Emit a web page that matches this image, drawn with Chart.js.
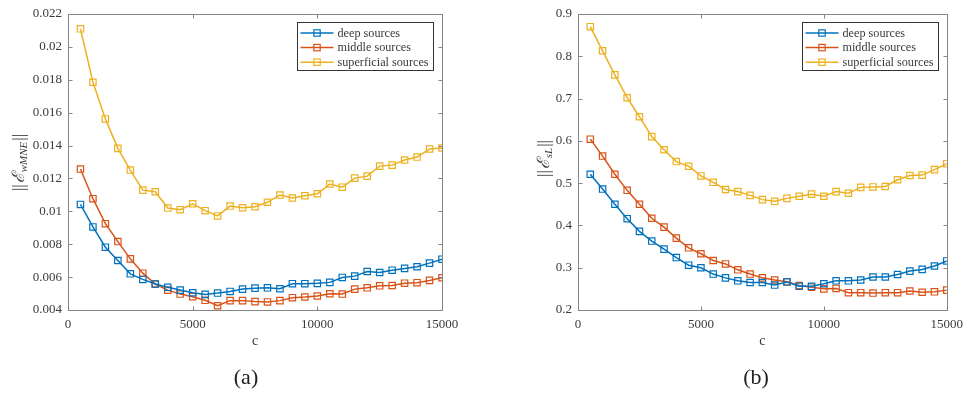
<!DOCTYPE html>
<html>
<head>
<meta charset="utf-8">
<script src="https://cdn.jsdelivr.net/npm/chart.js@4.4.1/dist/chart.umd.min.js"></script>
<style>
  body { margin: 0; background: #fff; width: 970px; height: 394px; overflow: hidden; position: relative; font-family: "Liberation Serif", serif; }
  .panel { position: absolute; top: 0; width: 485px; height: 394px; }
  .cap { position: absolute; top: 364px; font-size: 22px; color: #222; transform: translateX(-50%); }
</style>
</head>
<body>
<div class="panel" style="left:0"><canvas id="chartA"></canvas></div>
<div class="panel" style="left:485px"><canvas id="chartB"></canvas></div>
<div class="cap" style="left:246px">(a)</div>
<div class="cap" style="left:756px">(b)</div>

<script>
// ── data (c = regularisation parameter) ──
const cValues = [500, 1000, 1500, 2000, 2500, 3000, 3500, 4000, 4500, 5000,
                 5500, 6000, 6500, 7000, 7500, 8000, 8500, 9000, 9500, 10000,
                 10500, 11000, 11500, 12000, 12500, 13000, 13500, 14000, 14500, 15000];
const seriesNames = ["deep sources", "middle sources", "superficial sources"];

// (a) ||E_wMNE||
const deepA   = [0.01042, 0.00905, 0.00782, 0.00701, 0.00620, 0.00586, 0.00558, 0.00538, 0.00521, 0.00505,
                 0.00495, 0.00503, 0.00513, 0.00527, 0.00533, 0.00535, 0.00529, 0.00560, 0.00560, 0.00562,
                 0.00568, 0.00598, 0.00606, 0.00634, 0.00628, 0.00642, 0.00653, 0.00663, 0.00685, 0.00709];
const middleA = [0.01257, 0.01077, 0.00925, 0.00816, 0.00711, 0.00624, 0.00558, 0.00521, 0.00497, 0.00481,
                 0.00459, 0.00426, 0.00457, 0.00457, 0.00451, 0.00449, 0.00457, 0.00475, 0.00479, 0.00485,
                 0.00499, 0.00497, 0.00527, 0.00535, 0.00547, 0.00549, 0.00563, 0.00566, 0.00580, 0.00596];
const superA  = [0.02110, 0.01785, 0.01562, 0.01383, 0.01251, 0.01129, 0.01119, 0.01020, 0.01010, 0.01046,
                 0.01004, 0.00972, 0.01032, 0.01022, 0.01028, 0.01055, 0.01099, 0.01081, 0.01095, 0.01107,
                 0.01166, 0.01147, 0.01202, 0.01214, 0.01275, 0.01281, 0.01312, 0.01330, 0.01379, 0.01385];

// (b) ||E_sL||
const deepB   = [0.521, 0.486, 0.450, 0.416, 0.386, 0.363, 0.344, 0.324, 0.306, 0.300,
                 0.285, 0.276, 0.269, 0.265, 0.265, 0.259, 0.266, 0.256, 0.256, 0.262,
                 0.269, 0.269, 0.271, 0.278, 0.278, 0.284, 0.292, 0.296, 0.304, 0.316];
const middleB = [0.604, 0.564, 0.521, 0.483, 0.450, 0.417, 0.396, 0.370, 0.347, 0.333,
                 0.317, 0.309, 0.295, 0.285, 0.276, 0.271, 0.267, 0.258, 0.254, 0.250,
                 0.251, 0.241, 0.241, 0.240, 0.241, 0.241, 0.245, 0.242, 0.243, 0.247];
const superB  = [0.870, 0.813, 0.756, 0.702, 0.657, 0.610, 0.579, 0.551, 0.540, 0.517,
                 0.502, 0.485, 0.480, 0.471, 0.461, 0.457, 0.464, 0.469, 0.474, 0.469,
                 0.480, 0.476, 0.490, 0.491, 0.492, 0.508, 0.518, 0.519, 0.532, 0.546];

const xTicks = [0, 5000, 10000, 15000];
const yTicksA = [0.004, 0.006, 0.008, 0.01, 0.012, 0.014, 0.016, 0.018, 0.02, 0.022];
const yTicksB = [0.2, 0.3, 0.4, 0.5, 0.6, 0.7, 0.8, 0.9];

const colors = ["#0072BD", "#D95319", "#EDB120"];
const serif = '"Liberation Serif", "DejaVu Serif", serif';
const axisGray = "#858585";
const textGray = "#3a3a3a";

// MATLAB-ish box, inward ticks, legend, axis titles
const matlabFrame = {
  id: "matlabFrame",
  afterDraw(chart, args, o) {
    const { ctx, chartArea: a } = chart;
    const xs = chart.scales.x, ys = chart.scales.y;
    ctx.save();
    ctx.strokeStyle = axisGray;
    ctx.lineWidth = 1;
    const L = Math.round(a.left) + 0.5, R = Math.round(a.right) + 0.5;
    const T = Math.round(a.top) + 0.5, B = Math.round(a.bottom) + 0.5;
    ctx.strokeRect(L, T, R - L, B - T);
    const tl = 4;
    ctx.beginPath();
    xTicks.forEach(v => {
      const px = Math.round(xs.getPixelForValue(v)) + 0.5;
      ctx.moveTo(px, B); ctx.lineTo(px, B - tl);
      ctx.moveTo(px, T); ctx.lineTo(px, T + tl);
    });
    o.yTicks.forEach(v => {
      const py = Math.round(ys.getPixelForValue(v)) + 0.5;
      ctx.moveTo(L, py); ctx.lineTo(L + tl, py);
      ctx.moveTo(R, py); ctx.lineTo(R - tl, py);
    });
    ctx.stroke();

    // x title
    ctx.fillStyle = textGray;
    ctx.font = "14px " + serif;
    ctx.textAlign = "center";
    ctx.textBaseline = "middle";
    ctx.fillText("c", (a.left + a.right) / 2, 341);

    // y title  ||E_sub||
    ctx.translate(o.yTitleX, o.yTitleY);
    ctx.rotate(-Math.PI / 2);
    ctx.textAlign = "left";
    ctx.textBaseline = "alphabetic";
    const parts = [
      { t: "||", f: "17px " + serif, dy: 0 },
      { t: "\u2130", f: "italic 17px " + serif, dy: 0 },
      { t: o.sub, f: "italic 11px " + serif, dy: 3 },
      { t: "||", f: "17px " + serif, dy: 0 }
    ];
    let total = 0;
    parts.forEach(p => { ctx.font = p.f; p.w = ctx.measureText(p.t).width; total += p.w + 1; });
    let cx = -total / 2;
    parts.forEach(p => { ctx.font = p.f; ctx.fillText(p.t, cx, 6 + p.dy); cx += p.w + 1; });
    ctx.setTransform(1, 0, 0, 1, 0, 0);
    ctx.restore();

    // legend box
    ctx.save();
    const bw = 136, bh = 48;
    const bx = Math.round(a.right - 9 - bw) + 0.5, by = Math.round(a.top + 8) + 0.5;
    ctx.fillStyle = "#fff";
    ctx.fillRect(bx, by, bw, bh);
    ctx.strokeStyle = "#333";
    ctx.lineWidth = 1;
    ctx.strokeRect(bx, by, bw, bh);
    ctx.font = "12.2px " + serif;
    ctx.textBaseline = "middle";
    seriesNames.forEach((name, i) => {
      const ry = by + 10.5 + i * 14.6;
      ctx.strokeStyle = colors[i];
      ctx.lineWidth = 1.5;
      ctx.beginPath(); ctx.moveTo(bx + 3, ry); ctx.lineTo(bx + 36, ry); ctx.stroke();
      ctx.lineWidth = 1.2;
      ctx.strokeRect(bx + 19.5 - 3.2, ry - 3.2, 6.4, 6.4);
      ctx.fillStyle = textGray;
      ctx.fillText(name, bx + 40, ry + 0.5);
    });
    ctx.restore();
  }
};

function makeChart(id, dataSets, yMin, yMax, yTicks, fmt, leftW, rightPad, sub, yTitleX, yTitleY) {
  return new Chart(document.getElementById(id), {
    type: "line",
    data: {
      datasets: dataSets.map((vals, i) => ({
        label: seriesNames[i],
        data: cValues.map((c, k) => ({ x: c, y: vals[k] })),
        borderColor: colors[i],
        borderWidth: 1.5,
        pointStyle: "rect",
        pointRadius: 4.5,
        pointBorderWidth: 1.2,
        pointBorderColor: colors[i],
        pointBackgroundColor: "rgba(0,0,0,0)",
        tension: 0
      }))
    },
    options: {
      responsive: true,
      maintainAspectRatio: false,
      animation: false,
      layout: { padding: { top: 14, right: rightPad, left: 0, bottom: 0 } },
      plugins: {
        legend: { display: false },
        tooltip: { enabled: false },
        matlabFrame: { yTicks, sub, yTitleX, yTitleY }
      },
      scales: {
        x: {
          type: "linear", min: 0, max: 15000,
          afterBuildTicks: s => { s.ticks = xTicks.map(v => ({ value: v })); },
          afterFit: s => { s.height = 84; },
          grid: { display: false, drawTicks: false },
          border: { display: false },
          ticks: { color: textGray, padding: 7, font: { family: serif, size: 13 }, maxRotation: 0,
                   callback: v => String(v) }
        },
        y: {
          min: yMin, max: yMax,
          afterBuildTicks: s => { s.ticks = yTicks.map(v => ({ value: v })); },
          afterFit: s => { s.width = leftW; },
          grid: { display: false, drawTicks: false },
          border: { display: false },
          ticks: { color: textGray, padding: 6, font: { family: serif, size: 13 }, callback: fmt }
        }
      }
    },
    plugins: [matlabFrame]
  });
}

makeChart("chartA", [deepA, middleA, superA], 0.004, 0.022, yTicksA,
  v => String(Number(v.toFixed(3))), 68, 43, "wMNE", 18, 162);
makeChart("chartB", [deepB, middleB, superB], 0.2, 0.9, yTicksB,
  v => v.toFixed(1), 93, 18, "sL", 58, 158);
</script>
</body>
</html>
